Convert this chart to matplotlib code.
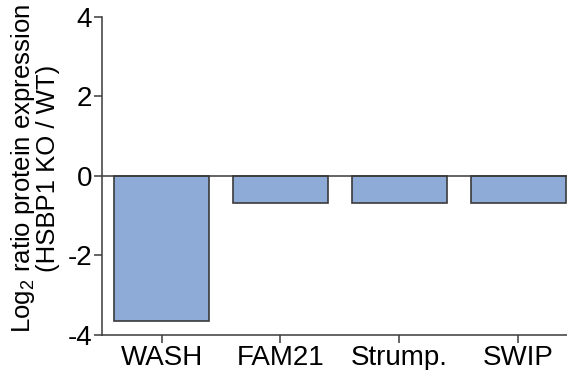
import matplotlib
matplotlib.use('Agg')
import matplotlib.pyplot as plt
import numpy as np

plt.rcParams['font.family'] = ['Liberation Sans', 'DejaVu Sans']
plt.rcParams['mathtext.fontset'] = 'custom'
plt.rcParams['mathtext.rm'] = 'Liberation Sans'
plt.rcParams['axes.unicode_minus'] = False

# data
proteins = ['WASH', 'FAM21', 'Strump.', 'SWIP']
log2_ratio = [-3.65, -0.67, -0.69, -0.67]
yticks = [-4, -2, 0, 2, 4]

fig = plt.figure(figsize=(5.67, 3.7), dpi=100)
ax = fig.add_axes([0.18, 0.095, 0.82, 0.859])

x = np.arange(len(proteins))
ax.bar(x, log2_ratio, width=0.8, color='#8eaad7', edgecolor='#3a3a3a', linewidth=1.2, zorder=2)
ax.axhline(0, color='#3a3a3a', lw=1.1, zorder=3)

ax.set_xlim(-0.5, 3.41)
ax.set_ylim(-4, 4)
ax.set_xticks(x)
ax.set_xticklabels(proteins, fontsize=20)
ax.set_yticks(yticks)
ax.set_yticklabels([str(t) for t in yticks], fontsize=20)

for s in ['top', 'right']:
    ax.spines[s].set_visible(False)
for s in ['left', 'bottom']:
    ax.spines[s].set_color('#3a3a3a')
    ax.spines[s].set_linewidth(1.1)
ax.tick_params(direction='out', length=6, width=1.1, color='#3a3a3a', pad=1)

ax.set_ylabel('Log$_\\mathregular{2}$ ratio protein expression\n(HSBP1 KO / WT)',
              fontsize=18.5, linespacing=0.95)
ax.yaxis.set_label_coords(-0.09, 0.525)

fig.savefig('out.png', dpi=100)
